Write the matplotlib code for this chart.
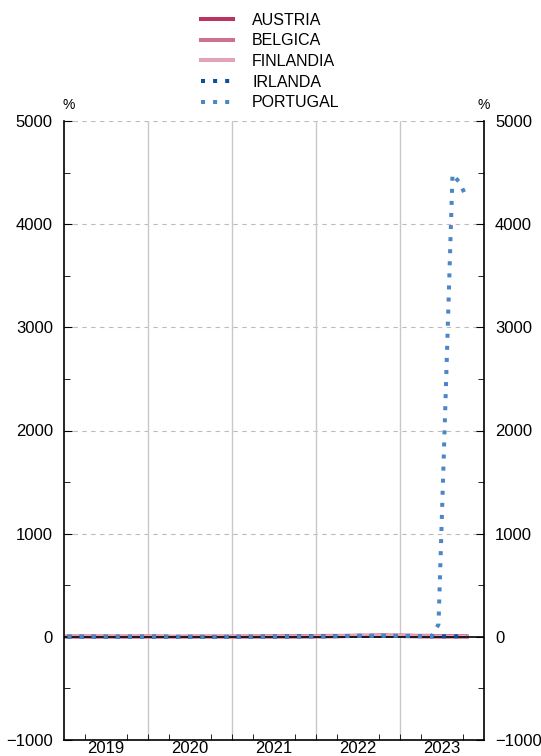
import numpy as np
import matplotlib.pyplot as plt
from matplotlib.ticker import MultipleLocator, FixedLocator, NullFormatter

plt.rcParams['font.family'] = ['Liberation Sans', 'DejaVu Sans']

# monthly data, Jan 2019 - Oct 2023
years = [2019, 2020, 2021, 2022, 2023]
n_months = 58

austria = [1.2, 1.5, 1.4, 1.6, 1.7, 1.6, 1.5, 1.3, 1.2, 1.1, 1.3, 1.8,
           1.9, 1.7, 0.5, -0.4, 0.1, 0.6, 1.0, 1.4, 1.2, 1.1, 1.0, 1.2,
           1.5, 1.3, 1.9, 1.8, 2.8, 3.0, 3.0, 3.1, 3.2, 3.7, 4.1, 4.3,
           5.1, 5.5, 6.6, 7.1, 7.7, 8.7, 9.4, 9.3, 11.0, 11.6, 11.2, 10.5,
           11.6, 11.0, 9.2, 9.5, 8.7, 7.8, 7.0, 7.5, 5.7, 4.9]
belgica = [2.2, 2.1, 2.2, 1.8, 1.6, 1.3, 1.2, 1.1, 0.9, 0.6, 0.5, 0.9,
           1.1, 1.0, 0.2, -0.5, -0.6, 0.2, 0.9, 0.6, 0.5, 0.4, 0.3, 0.4,
           0.6, 0.3, 1.6, 2.6, 2.5, 2.4, 2.3, 4.7, 4.4, 5.4, 7.1, 6.6,
           8.5, 9.5, 9.3, 9.3, 9.9, 10.5, 10.4, 10.5, 12.0, 13.1, 10.5, 10.2,
           7.4, 5.4, 4.9, 3.3, 2.7, 1.6, 1.7, 2.4, 0.7, -1.7]
finlandia = [1.1, 1.3, 1.2, 1.5, 1.3, 1.1, 1.0, 1.2, 1.0, 0.7, 0.8, 1.1,
             1.0, 1.1, 0.9, -0.3, -0.4, 0.2, 0.6, 0.5, 0.3, 0.4, 0.2, 0.2,
             1.0, 0.9, 1.6, 2.3, 2.3, 1.9, 1.8, 1.9, 2.1, 2.8, 3.5, 3.2,
             4.1, 4.4, 5.8, 5.8, 7.1, 8.1, 8.0, 7.9, 8.4, 8.4, 9.1, 8.8,
             7.9, 7.9, 6.7, 6.3, 4.2, 4.1, 3.1, 2.6, 2.9, 2.4]
irlanda = [0.8, 0.7, 1.1, 1.7, 1.0, 1.1, 0.5, 0.6, 1.1, 0.7, 0.8, 1.1,
           1.1, 1.1, 0.5, -0.3, -0.8, -0.6, -0.6, -1.1, -1.2, -1.5, -1.0, -1.0,
           -0.1, -0.4, 0.1, 1.9, 1.9, 1.6, 2.2, 3.0, 3.8, 5.1, 5.4, 5.7,
           5.0, 5.7, 6.9, 7.3, 8.3, 9.6, 9.6, 9.0, 8.6, 9.4, 9.0, 8.2,
           7.5, 8.1, 7.0, 6.3, 5.4, 4.8, 4.6, 4.9, 5.0, 3.6]
portugal = [0.8, 0.9, 0.8, 0.9, 0.3, 0.7, -0.6, -0.1, -0.3, 0.0, 0.2, 0.5,
            0.8, 0.4, 0.1, -0.1, -0.6, 0.2, 1.8, -0.2, -0.7, -0.6, -0.5, -0.3,
            0.2, 0.3, 0.1, -0.1, 0.5, 0.5, 1.2, 1.3, 1.3, 1.8, 2.6, 2.8,
            3.4, 4.4, 5.5, 7.4, 8.1, 9.0, 9.4, 9.3, 9.8, 10.6, 10.2, 9.8,
            8.6, 8.6, 8.0, 6.9, 5.4, 120.0, 2290.0, 4485.0, 4405.0, 4260.0]

series = [
    ('AUSTRIA', austria, '#b7355f', '-'),
    ('BELGICA', belgica, '#cd7190', '-'),
    ('FINLANDIA', finlandia, '#e2a3b8', '-'),
    ('IRLANDA', irlanda, '#0e4f9c', (0, (1, 2))),
    ('PORTUGAL', portugal, '#4c86c6', (0, (1, 2))),
]

x = 2019 + (np.arange(n_months) + 0.5) / 12.0

fig = plt.figure(figsize=(5.41, 7.56), dpi=100)
ax = fig.add_axes([64 / 541, 1 - 740 / 756, 420 / 541, 619 / 756])

for name, vals, col, ls in series:
    ax.plot(x, vals, color=col, lw=2.9, linestyle=ls, label=name,
            dash_capstyle='butt', zorder=3 if ls != '-' else 2)

ax.axhline(0, color='black', lw=1.2, zorder=2.5)

ax.set_xlim(2019, 2024)
ax.set_ylim(-1000, 5000)

# grid
for v in range(1000, 5001, 1000):
    ax.axhline(v, color='#bbbbbb', lw=0.8, ls=(0, (4, 4)), zorder=1)
for yr in years[1:]:
    ax.axvline(yr, color='#c8c8c8', lw=1.0, zorder=1)

ax.spines['top'].set_visible(False)
for s in ['left', 'right', 'bottom']:
    ax.spines[s].set_linewidth(1.2)

ax.yaxis.set_major_locator(MultipleLocator(1000))
ax.yaxis.set_minor_locator(MultipleLocator(500))
ax.tick_params(axis='y', which='both', direction='in', left=True, right=True,
               labelleft=True, labelright=True, labelsize=12, pad=8)
ax.tick_params(axis='y', which='major', length=6)
ax.tick_params(axis='y', which='minor', length=4)

ax.xaxis.set_major_locator(FixedLocator([y + 0.5 for y in years]))
ax.set_xticklabels([str(y) for y in years])
ax.xaxis.set_minor_locator(FixedLocator([y + q / 4 for y in years for q in range(1, 4)]
                                        + years[1:]))
ax.xaxis.set_minor_formatter(NullFormatter())
ax.tick_params(axis='x', which='major', length=0, labelsize=12, pad=1)
ax.tick_params(axis='x', which='minor', direction='in', length=4)

ax.text(0.01, 1.015, '%', transform=ax.transAxes, ha='center', va='bottom', fontsize=10)
ax.text(1.0, 1.015, '%', transform=ax.transAxes, ha='center', va='bottom', fontsize=10)

fig.legend(loc='upper center', bbox_to_anchor=(0.5, 1.0), frameon=False,
           fontsize=11.5, handlelength=2.0, labelspacing=0.35, handletextpad=1.2,
           borderaxespad=0.4)

fig.savefig('out.png', dpi=100)
